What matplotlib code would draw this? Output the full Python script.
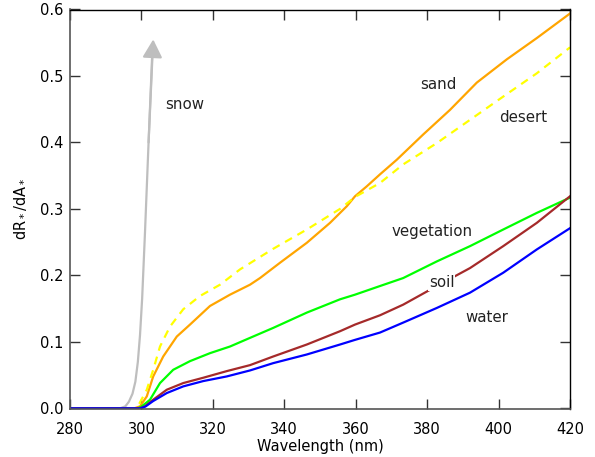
"""
dR*/dA* spectra for several surface types (snow, sand, desert, vegetation, soil, water).
Writes out.png.
"""

import matplotlib
matplotlib.use("Agg")
import matplotlib.pyplot as plt

# values
snow_wl = [280, 294, 295.5, 296.5, 297.5, 298.3, 299.0, 299.6, 300.2, 301.0, 302.0, 303.0]
snow_val = [0.0, 0.0, 0.003, 0.010, 0.022, 0.040, 0.070, 0.110, 0.165, 0.265, 0.400, 0.530]
snow_tip = (303.3, 0.555)

sand_wl = [280, 298, 299.6, 301.5, 303.3, 306.1, 309.9, 313.6, 319.2, 324.8, 330.4, 333.2, 338.8,
           346.3, 352.8, 357.5, 359.8, 363.1, 366.8, 371.5, 378.9, 386.4, 393.9, 402.3, 410.7, 420]
sand_val = [0.0, 0.0, 0.003, 0.018, 0.048, 0.078, 0.108, 0.126, 0.154, 0.171, 0.186, 0.196, 0.219,
            0.249, 0.279, 0.304, 0.319, 0.334, 0.352, 0.374, 0.412, 0.449, 0.490, 0.525, 0.557, 0.594]

desert_wl = [280, 298, 299.1, 301.5, 303.3, 305.2, 308.0, 311.7, 316.4, 322.0, 327.6, 336.9,
             346.3, 355.6, 359.8, 366.8, 373.3, 382.7, 392.0, 401.3, 410.7, 420]
desert_val = [0.0, 0.0, 0.004, 0.028, 0.058, 0.093, 0.123, 0.149, 0.169, 0.186, 0.209, 0.240,
              0.269, 0.300, 0.318, 0.339, 0.367, 0.399, 0.434, 0.469, 0.504, 0.543]

veg_wl = [280, 299, 300.1, 302.4, 305.2, 308.9, 313.6, 319.2, 324.8, 330.4, 336.9, 346.3,
          355.6, 359.8, 366.8, 373.3, 382.7, 392.0, 401.3, 410.7, 420]
veg_val = [0.0, 0.0, 0.003, 0.013, 0.038, 0.058, 0.071, 0.083, 0.093, 0.106, 0.121, 0.144,
           0.164, 0.171, 0.184, 0.196, 0.221, 0.244, 0.269, 0.294, 0.317]

soil_wl = [280, 299.5, 301.0, 303.3, 307.1, 311.7, 317.3, 323.9, 330.4, 336.9, 346.3, 355.6,
           359.8, 366.8, 373.3, 382.7, 392.0, 401.3, 410.7, 420]
soil_val = [0.0, 0.0, 0.003, 0.013, 0.028, 0.038, 0.046, 0.056, 0.065, 0.078, 0.096, 0.116,
            0.126, 0.140, 0.156, 0.184, 0.211, 0.244, 0.279, 0.319]

water_wl = [280, 299.8, 301.2, 303.3, 307.1, 311.7, 317.3, 323.9, 330.4, 336.9, 346.3, 355.6,
            359.8, 366.8, 373.3, 382.7, 392.0, 401.3, 410.7, 420]
water_val = [0.0, 0.0, 0.003, 0.011, 0.023, 0.033, 0.041, 0.048, 0.057, 0.068, 0.081, 0.096,
             0.103, 0.114, 0.129, 0.151, 0.174, 0.204, 0.239, 0.271]

# label text and where it sits (data coords)
labels = ["snow", "sand", "desert", "vegetation", "soil", "water"]
label_x = [312.2, 383.1, 406.9, 381.3, 384.1, 396.7]
label_y = [0.457, 0.487, 0.437, 0.266, 0.189, 0.136]

x_ticks = [280, 300, 320, 340, 360, 380, 400, 420]
y_ticks = [0.0, 0.1, 0.2, 0.3, 0.4, 0.5, 0.6]

plt.rcParams["font.family"] = ["DejaVu Sans"]
plt.rcParams["font.size"] = 10.5

fig = plt.figure(figsize=(5.95, 4.57), dpi=100)
ax = fig.add_axes([70 / 595, 48 / 457, 500 / 595, 399.5 / 457])

lw = 1.6
ax.plot(snow_wl, snow_val, color="#bebebe", lw=lw, solid_capstyle="butt")
ax.annotate("", xy=snow_tip, xytext=(snow_wl[-2], snow_val[-2]),
            arrowprops=dict(arrowstyle="-|>,head_length=0.55,head_width=0.3",
                            mutation_scale=20, color="#bebebe", lw=lw,
                            shrinkA=0, shrinkB=0))
ax.plot(sand_wl, sand_val, color="#ffa500", lw=lw)
ax.plot(desert_wl, desert_val, color="#ffff00", lw=lw, dashes=(3.6, 2.8))
ax.plot(veg_wl, veg_val, color="#00ff00", lw=lw)
ax.plot(soil_wl, soil_val, color="#a52a2a", lw=lw)
ax.plot(water_wl, water_val, color="#0000ff", lw=lw)

for txt, lx, ly in zip(labels, label_x, label_y):
    bbox = None
    if txt == "soil":
        bbox = dict(facecolor="white", edgecolor="none", pad=0.5)
    ax.text(lx, ly, txt, ha="center", va="center", fontsize=10.8, color="#222222", bbox=bbox)

ax.set_xlim(280, 420)
ax.set_ylim(-0.001, 0.6)
ax.set_xticks(x_ticks)
ax.set_yticks(y_ticks)
ax.set_yticklabels([f"{v:.1f}" for v in y_ticks])
ax.tick_params(axis="both", direction="in", length=7, width=1, color="#333333",
               top=True, right=True)
ax.tick_params(axis="x", pad=9)
ax.tick_params(axis="y", pad=5)
for side in ["left", "bottom"]:
    ax.spines[side].set_color("#555555")
    ax.spines[side].set_linewidth(1.2)
for side in ["top", "right"]:
    ax.spines[side].set_color("black")
    ax.spines[side].set_linewidth(1.0)

ax.set_xlabel("Wavelength (nm)", labelpad=2)
ax.set_ylabel("dR$_*$/dA$_*$", labelpad=8)

fig.savefig("out.png", dpi=100)
